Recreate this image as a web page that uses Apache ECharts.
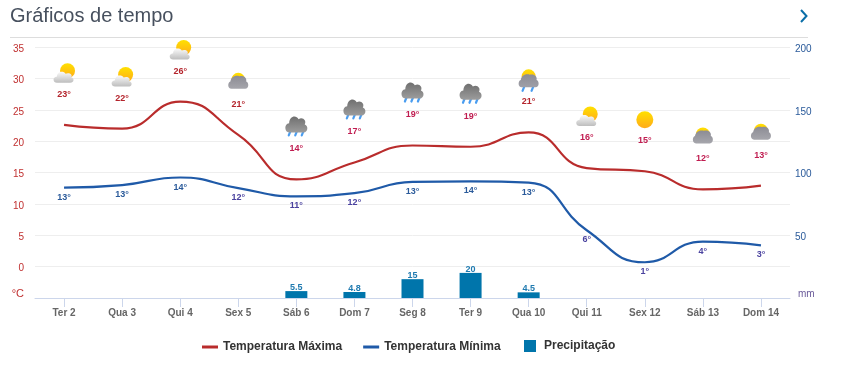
<!DOCTYPE html>
<html><head><meta charset="utf-8">
<style>html,body{margin:0;padding:0;background:#fff}#c{width:841px;height:372px}</style>
<script src="https://cdn.jsdelivr.net/npm/echarts@6/dist/echarts.min.js"></script>
</head><body><div id="c"></div>
<script>
const categories=['Ter 2','Qua 3','Qui 4','Sex 5','Sáb 6','Dom 7','Seg 8','Ter 9','Qua 10','Qui 11','Sex 12','Sáb 13','Dom 14'];
const maxTemp=[22.6,22.0,26.3,21.0,13.9,16.6,19.3,19.1,21.4,15.7,15.2,12.3,12.9];
const minTemp=[12.6,13.0,14.2,12.5,11.2,11.7,13.5,13.6,13.4,5.8,0.7,4.0,3.4];
const maxLabels=[23,22,26,21,14,17,19,19,21,16,15,12,13];
const minLabels=[13,13,14,12,11,12,13,14,13,6,1,4,3];
const precip=[null,null,null,null,5.5,4.8,15,20,4.5,null,null,null,null];
const icons=['partly','partly','partly','cloudSun','rain','rain','rain','rain','rainSun','partly','sun','cloudSun','cloudSun'];
const RED='#b92c2c',BLUE='#1f5aa8',BAR='#0075ab';
const CLOUD='M4 14C0 14 -1 7.5 4 7C4 2 10 0 12.5 4C16 2 20 5 18 8C21.5 9 21 14 17 14Z';
const DOME='M3 14C-1 14 -1 8 2 7C3 2 8 1 11 2C16 1 19 4 18 7C21 8 21 14 17 14Z';
const grad=(a,b)=>new echarts.graphic.LinearGradient(0,0,0,1,[{offset:0,color:a},{offset:1,color:b}]);
function cloud(d,x,y,w,h,a,b){return {type:'path',shape:{pathData:d,x:x,y:y,width:w,height:h,layout:'cover'},style:{fill:grad(a,b)}};}
function sun(x,y,r){return {type:'circle',shape:{cx:x,cy:y,r:r},style:{fill:grad('#ffe000','#ffab1a')}};}
function drops(x,y,n){const out=[];const step=n===3?6.5:9;const s=x-(n-1)*step/2;
  for(let i=0;i<n;i++){const dx=s+i*step;out.push({type:'line',shape:{x1:dx+1,y1:y,x2:dx-0.6,y2:y+4},style:{stroke:'#4a9df0',lineWidth:2.2,lineCap:'round'}});}
  return out;}
function drawIcon(kind){
  if(kind==='sun')return [sun(0,-51.5,8.5)];
  if(kind==='partly')return [sun(3.5,-54,7.5),cloud(CLOUD,-10.5,-53,20,11,'#fafafa','#bdbdbd')];
  if(kind==='cloudSun')return [sun(0,-55,7),cloud(DOME,-10,-59,20,13,'#8c8c94','#a6a6ac')];
  if(kind==='rain')return drops(-0.5,-48,3).concat([cloud(CLOUD,-11,-63,22,16,'#6f6f6f','#9c9c9c')]);
  return drops(-1,-45.5,2).concat([sun(0,-56,7),cloud(DOME,-10,-58,20,13,'#8c8c94','#a0a0a8')]);
}
const chart=echarts.init(document.getElementById('c'),null,{renderer:'canvas'});
const font='"Liberation Sans",Arial,sans-serif';
chart.setOption({
  animation:false,
  textStyle:{fontFamily:font},
  title:{text:'Gráficos de tempo',left:5,top:1,textStyle:{fontSize:20,fontWeight:'normal',color:'#47505e',fontFamily:font}},
  graphic:[
    {type:'line',silent:true,shape:{x1:10,y1:37.5,x2:808,y2:37.5},style:{stroke:'#dddddd',lineWidth:1}},
    {type:'polyline',silent:true,shape:{points:[[801,10],[806.5,16],[801,22]]},style:{stroke:'#0a6ea8',lineWidth:2,fill:'none'}}
  ],
  grid:{left:35,right:51,top:47,bottom:74},
  legend:[
    {data:[{name:'Temperatura Máxima',icon:'rect'},{name:'Temperatura Mínima',icon:'rect'}],left:197,top:336,itemWidth:16,itemHeight:3,itemGap:21,selectedMode:false,
     textStyle:{fontSize:12,fontWeight:'bold',color:'#333'}},
    {data:[{name:'Precipitação',icon:'rect'}],left:519,top:335,itemWidth:12,itemHeight:12,selectedMode:false,
     textStyle:{fontSize:12,fontWeight:'bold',color:'#333',padding:[0,0,0,3]}}
  ],
  xAxis:{type:'category',data:categories,boundaryGap:true,
    axisTick:{show:true,alignWithLabel:true,length:9,lineStyle:{color:'#ccd6eb',width:1}},
    axisLine:{show:true,onZero:false,lineStyle:{color:'#ccd6eb',width:1}},
    axisLabel:{fontSize:10,fontWeight:'bold',color:'#666',margin:10,interval:0}},
  yAxis:[
    {type:'value',min:-5,max:35,interval:5,
      splitLine:{lineStyle:{color:'#eeeeee'}},axisLine:{show:false},axisTick:{show:false},
      axisLabel:{fontSize:10,color:'#c03030',margin:11,padding:[4,0,0,0],
        formatter:v=>v===-5?'{u|°C}':String(v),
        rich:{u:{fontSize:11,color:'#c03030',padding:[0,0,13,0]}}}},
    {type:'value',min:0,max:200,interval:50,position:'right',
      splitLine:{show:false},axisLine:{show:false},axisTick:{show:false},
      axisLabel:{fontSize:10,color:'#2a5a9a',margin:5,padding:[4,0,0,0],
        formatter:v=>v===0?'{u|mm}':String(v),
        rich:{u:{fontSize:10,color:'#6a5a9a',padding:[0,0,12,3]}}}}
  ],
  series:[
    {name:'Precipitação',type:'bar',yAxisIndex:1,data:precip,barWidth:22,itemStyle:{color:BAR},
      label:{show:true,position:'top',distance:-1,fontSize:9,fontWeight:'bold',color:'#1f7ab0'}},
    {name:'Temperatura Máxima',type:'line',smooth:0.5,symbol:'circle',symbolSize:0.01,showSymbol:true,showAllSymbol:true,itemStyle:{color:RED},lineStyle:{color:RED,width:2.2},
      data:maxTemp.map((v,i)=>({value:v,label:{color:maxLabels[i]>=20?'#b4242c':'#c01c50'}})),
      label:{show:true,position:'top',distance:26,fontSize:9,fontWeight:'bold',
        formatter:p=>maxLabels[p.dataIndex]+'°'}},
    {name:'Temperatura Mínima',type:'line',smooth:0.5,symbol:'circle',symbolSize:0.01,showSymbol:true,showAllSymbol:true,itemStyle:{color:BLUE},lineStyle:{color:BLUE,width:2.2},
      data:minTemp.map((v,i)=>({value:v,label:{color:minLabels[i]>=13?'#2a5a9a':'#4a429f'}})),
      label:{show:true,position:'bottom',distance:5,fontSize:9,fontWeight:'bold',
        formatter:p=>minLabels[p.dataIndex]+'°'}},
    {name:'icones',type:'custom',clip:false,silent:true,
      encode:{x:0,y:1},data:maxTemp.map((v,i)=>[i,v]),
      renderItem:(params,api)=>{
        const p=api.coord([api.value(0),api.value(1)]);
        return {type:'group',x:p[0],y:p[1],children:drawIcon(icons[params.dataIndex])};
      }}
  ]
});
</script></body></html>
